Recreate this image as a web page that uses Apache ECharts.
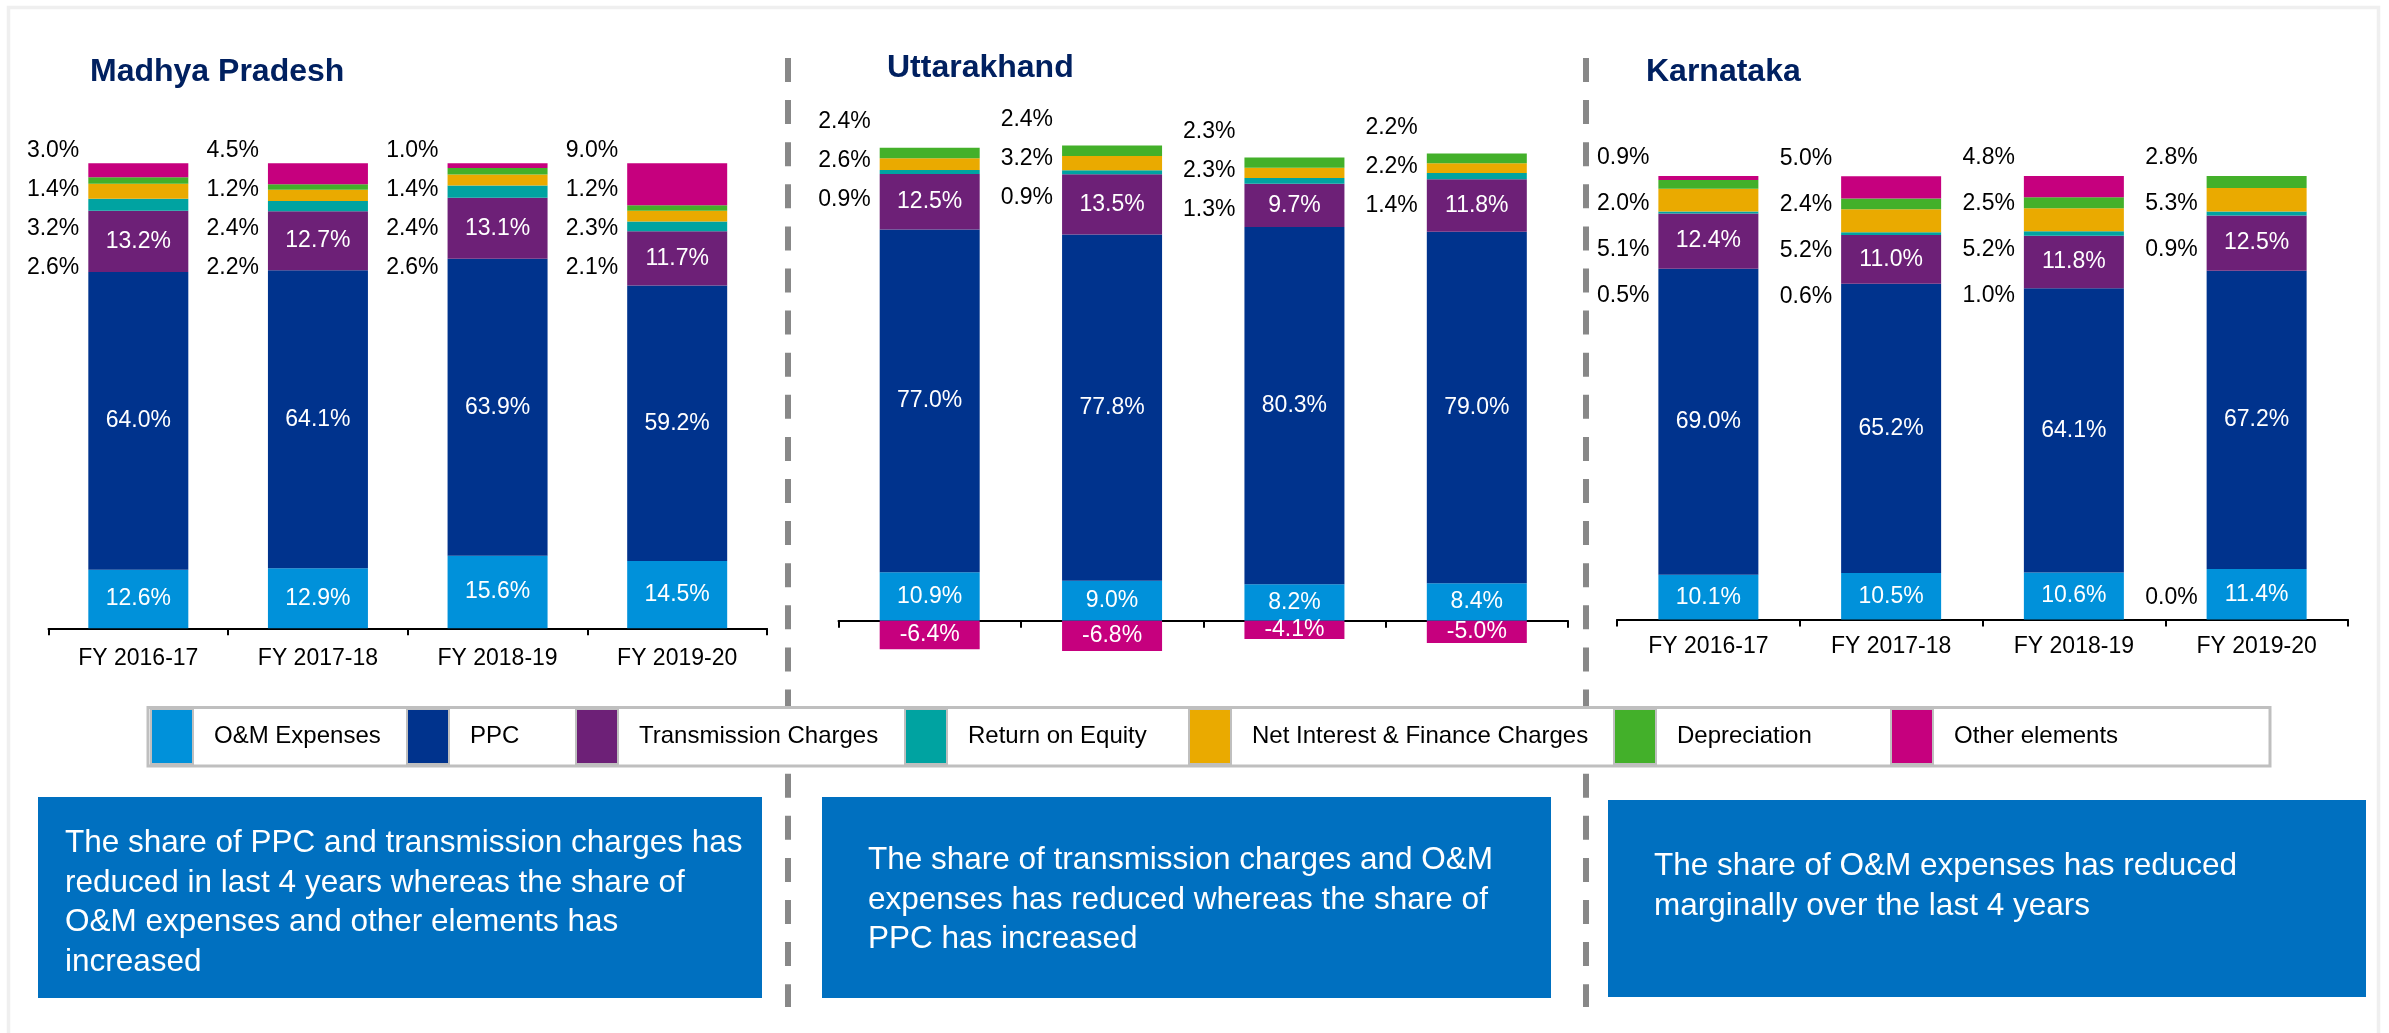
<!DOCTYPE html>
<html>
<head>
<meta charset="utf-8">
<title>Share of cost elements</title>
<script src="https://cdn.jsdelivr.net/npm/echarts/dist/echarts.min.js"></script>
<style>
  html, body { margin: 0; padding: 0; background: #fff; }
  #main { width: 2389px; height: 1033px; }
</style>
</head>
<body>
<div id="main"></div>
<script>
// categories
var years = ["FY 2016-17", "FY 2017-18", "FY 2018-19", "FY 2019-20"];
var seriesNames = ["O&M Expenses", "PPC", "Transmission Charges", "Return on Equity",
  "Net Interest & Finance Charges", "Depreciation", "Other elements"];
var seriesColors = ["#0091da", "#00338d", "#6d2077", "#00a3a1", "#eaaa00", "#43b02a", "#c6007e"];

// Madhya Pradesh (%)
var mpOM       = [12.6, 12.9, 15.6, 14.5];
var mpPPC      = [64.0, 64.1, 63.9, 59.2];
var mpTrans    = [13.2, 12.7, 13.1, 11.7];
var mpRoE      = [2.6, 2.2, 2.6, 2.1];
var mpInterest = [3.2, 2.4, 2.4, 2.3];
var mpDep      = [1.4, 1.2, 1.4, 1.2];
var mpOther    = [3.0, 4.5, 1.0, 9.0];

// Uttarakhand (%)
var ukOM       = [10.9, 9.0, 8.2, 8.4];
var ukPPC      = [77.0, 77.8, 80.3, 79.0];
var ukTrans    = [12.5, 13.5, 9.7, 11.8];
var ukRoE      = [0.9, 0.9, 1.3, 1.4];
var ukInterest = [2.6, 3.2, 2.3, 2.2];
var ukDep      = [2.4, 2.4, 2.3, 2.2];
var ukOther    = [-6.4, -6.8, -4.1, -5.0];

// Karnataka (%)
var kaOM       = [10.1, 10.5, 10.6, 11.4];
var kaPPC      = [69.0, 65.2, 64.1, 67.2];
var kaTrans    = [12.4, 11.0, 11.8, 12.5];
var kaRoE      = [0.5, 0.6, 1.0, 0.9];
var kaInterest = [5.1, 5.2, 5.2, 5.3];
var kaDep      = [2.0, 2.4, 2.5, 2.8];
var kaOther    = [0.9, 5.0, 4.8, 0.0];

var stateTitles = ["Madhya Pradesh", "Uttarakhand", "Karnataka"];
var stateRows = [
  [mpOM, mpPPC, mpTrans, mpRoE, mpInterest, mpDep, mpOther],
  [ukOM, ukPPC, ukTrans, ukRoE, ukInterest, ukDep, ukOther],
  [kaOM, kaPPC, kaTrans, kaRoE, kaInterest, kaDep, kaOther]
];

var boxTexts = [
  "The share of PPC and transmission charges has\nreduced in last 4 years whereas the share of\nO&M expenses and other elements has\nincreased",
  "The share of transmission charges and O&M\nexpenses has reduced whereas the share of\nPPC has increased",
  "The share of O&M expenses has reduced\nmarginally over the last 4 years"
];

// layout (pixels)
var FONT = '"Liberation Sans", Arial, sans-serif';
var BAR_W = 100;
var panels = [
  { left: 48.5, width: 718.5, top: 163.3, height: 465, min: 0, max: 100, margin: 19, titleX: 90, titleY: 72, slotStart: -13, slotStep: 39 },
  { left: 838.5, width: 729.5, top: 131.2, height: 534, min: -10, max: 110, margin: 40, titleX: 887, titleY: 68, slotStart: -26, slotStep: 39 },
  { left: 1617, width: 731, top: 175.9, height: 443.7, min: 0, max: 100, margin: 16, titleX: 1646, titleY: 72, slotStart: -18, slotStep: 46 }
];
var boxes = [
  { x: 38, y: 797, w: 724, h: 201, tx: 65, ty: 824 },
  { x: 822, y: 797, w: 729, h: 201, tx: 868, ty: 841 },
  { x: 1608, y: 800, w: 758, h: 197, tx: 1654, ty: 847 }
];
var legendSwatchX = [151, 407, 576, 905, 1189, 1614, 1891];

var myChart = echarts.init(document.getElementById("main"));

function pct(p) {
  return p.value.toFixed(1) + "%";
}

// small segments get their labels in a column left of the bar
function sideLabel(c, s) {
  return function (p) {
    var rows = stateRows[c];
    var i = p.dataIndex;
    var v = rows[s][i];
    if (v <= 0) return {};
    var total = 0;
    for (var k = 0; k < rows.length; k++) {
      if (rows[k][i] > 0) total += rows[k][i];
    }
    var top = myChart.convertToPixel({ gridIndex: c }, [i, total])[1];
    var slot = 0;
    for (var j = s + 1; j < rows.length; j++) {
      if (rows[j][i] > 0) slot++;
    }
    return {
      x: p.rect.x - 9,
      y: top + panels[c].slotStart + slot * panels[c].slotStep,
      align: "right",
      verticalAlign: "middle"
    };
  };
}

var grids = [], xAxes = [], yAxes = [], series = [];
panels.forEach(function (L, c) {
  grids.push({ left: L.left, width: L.width, top: L.top, height: L.height, outerBoundsMode: "none", containLabel: false });
  xAxes.push({
    gridIndex: c,
    type: "category",
    data: years,
    axisLine: { show: true, lineStyle: { color: "#000", width: 2 } },
    axisTick: { show: true, alignWithLabel: false, inside: false, length: 7, lineStyle: { color: "#000", width: 2 } },
    axisLabel: { color: "#000", fontSize: 23, fontFamily: FONT, margin: L.margin },
    splitLine: { show: false }
  });
  yAxes.push({ gridIndex: c, type: "value", min: L.min, max: L.max, show: false, splitLine: { show: false } });

  var zeroPoints = [];
  stateRows[c].forEach(function (vals, s) {
    var small = s >= 3;
    series.push({
      name: seriesNames[s],
      type: "bar",
      xAxisIndex: c,
      yAxisIndex: c,
      stack: "state" + c,
      barWidth: BAR_W,
      itemStyle: { color: seriesColors[s] },
      label: {
        show: true,
        position: small ? "left" : "inside",
        color: small ? "#000" : "#fff",
        fontSize: 23,
        fontFamily: FONT,
        formatter: pct
      },
      labelLayout: small ? sideLabel(c, s) : null,
      emphasis: { disabled: true },
      data: vals.map(function (v, i) {
        if (v < 0) return { value: v, label: { position: "inside", color: "#fff" } };
        if (v === 0) {
          zeroPoints.push({ value: [i, 0, v] });
          return { value: v, label: { show: false } };
        }
        return v;
      })
    });
  });

  // zero shares are labelled at the foot of the bar
  if (zeroPoints.length) {
    series.push({
      type: "scatter",
      xAxisIndex: c,
      yAxisIndex: c,
      symbolSize: 1,
      itemStyle: { color: "#000", opacity: 0 },
      silent: true,
      z: 5,
      label: {
        show: true,
        position: "left",
        distance: BAR_W / 2 + 8.5,
        offset: [0, -22],
        color: "#000",
        opacity: 1,
        fontSize: 23,
        fontFamily: FONT,
        formatter: function (p) { return p.value[2].toFixed(1) + "%"; }
      },
      data: zeroPoints
    });
  }
});

var graphics = [];
// outer frame
graphics.push({
  type: "rect", z: 0, silent: true,
  shape: { x: 8.5, y: 7.5, width: 2370, height: 1040 },
  style: { fill: "none", stroke: "#efefef", lineWidth: 3.5 }
});
// dashed separators
[788, 1586].forEach(function (x) {
  graphics.push({
    type: "line", z: 1, silent: true,
    shape: { x1: x, y1: 58, x2: x, y2: 1007 },
    style: { stroke: "#888", lineWidth: 6, lineDash: [24, 18.1] }
  });
});
// titles
stateTitles.forEach(function (t, c) {
  graphics.push({
    type: "text", z: 5, x: panels[c].titleX, y: panels[c].titleY,
    style: { text: t, fill: "#002060", fontSize: 32, fontWeight: "bold", fontFamily: FONT, verticalAlign: "middle" }
  });
});
// legend strip
graphics.push({
  type: "rect", z: 5, silent: true,
  shape: { x: 148, y: 707.5, width: 2122, height: 58.5 },
  style: { fill: "#fff", stroke: "#bfbfbf", lineWidth: 3 }
});
seriesNames.forEach(function (n, s) {
  var sx = legendSwatchX[s];
  graphics.push({
    type: "rect", z: 6, silent: true,
    shape: { x: sx, y: 709, width: 42, height: 55 },
    style: { fill: seriesColors[s], stroke: "#bfbfbf", lineWidth: 2 }
  });
  graphics.push({
    type: "text", z: 6, x: sx + 63, y: 736.5,
    style: { text: n, fill: "#000", fontSize: 24, fontFamily: FONT, verticalAlign: "middle" }
  });
});
// comment boxes
boxes.forEach(function (b, i) {
  graphics.push({
    type: "rect", z: 5, silent: true,
    shape: { x: b.x, y: b.y, width: b.w, height: b.h },
    style: { fill: "#0070c0" }
  });
  graphics.push({
    type: "text", z: 6, x: b.tx, y: b.ty,
    style: { text: boxTexts[i], fill: "#fff", fontSize: 31.5, fontFamily: FONT, lineHeight: 39.5, verticalAlign: "top" }
  });
});

var option = {
  animation: false,
  backgroundColor: "#fff",
  grid: grids,
  xAxis: xAxes,
  yAxis: yAxes,
  series: series,
  graphic: graphics
};
myChart.setOption(option);
</script>
</body>
</html>
